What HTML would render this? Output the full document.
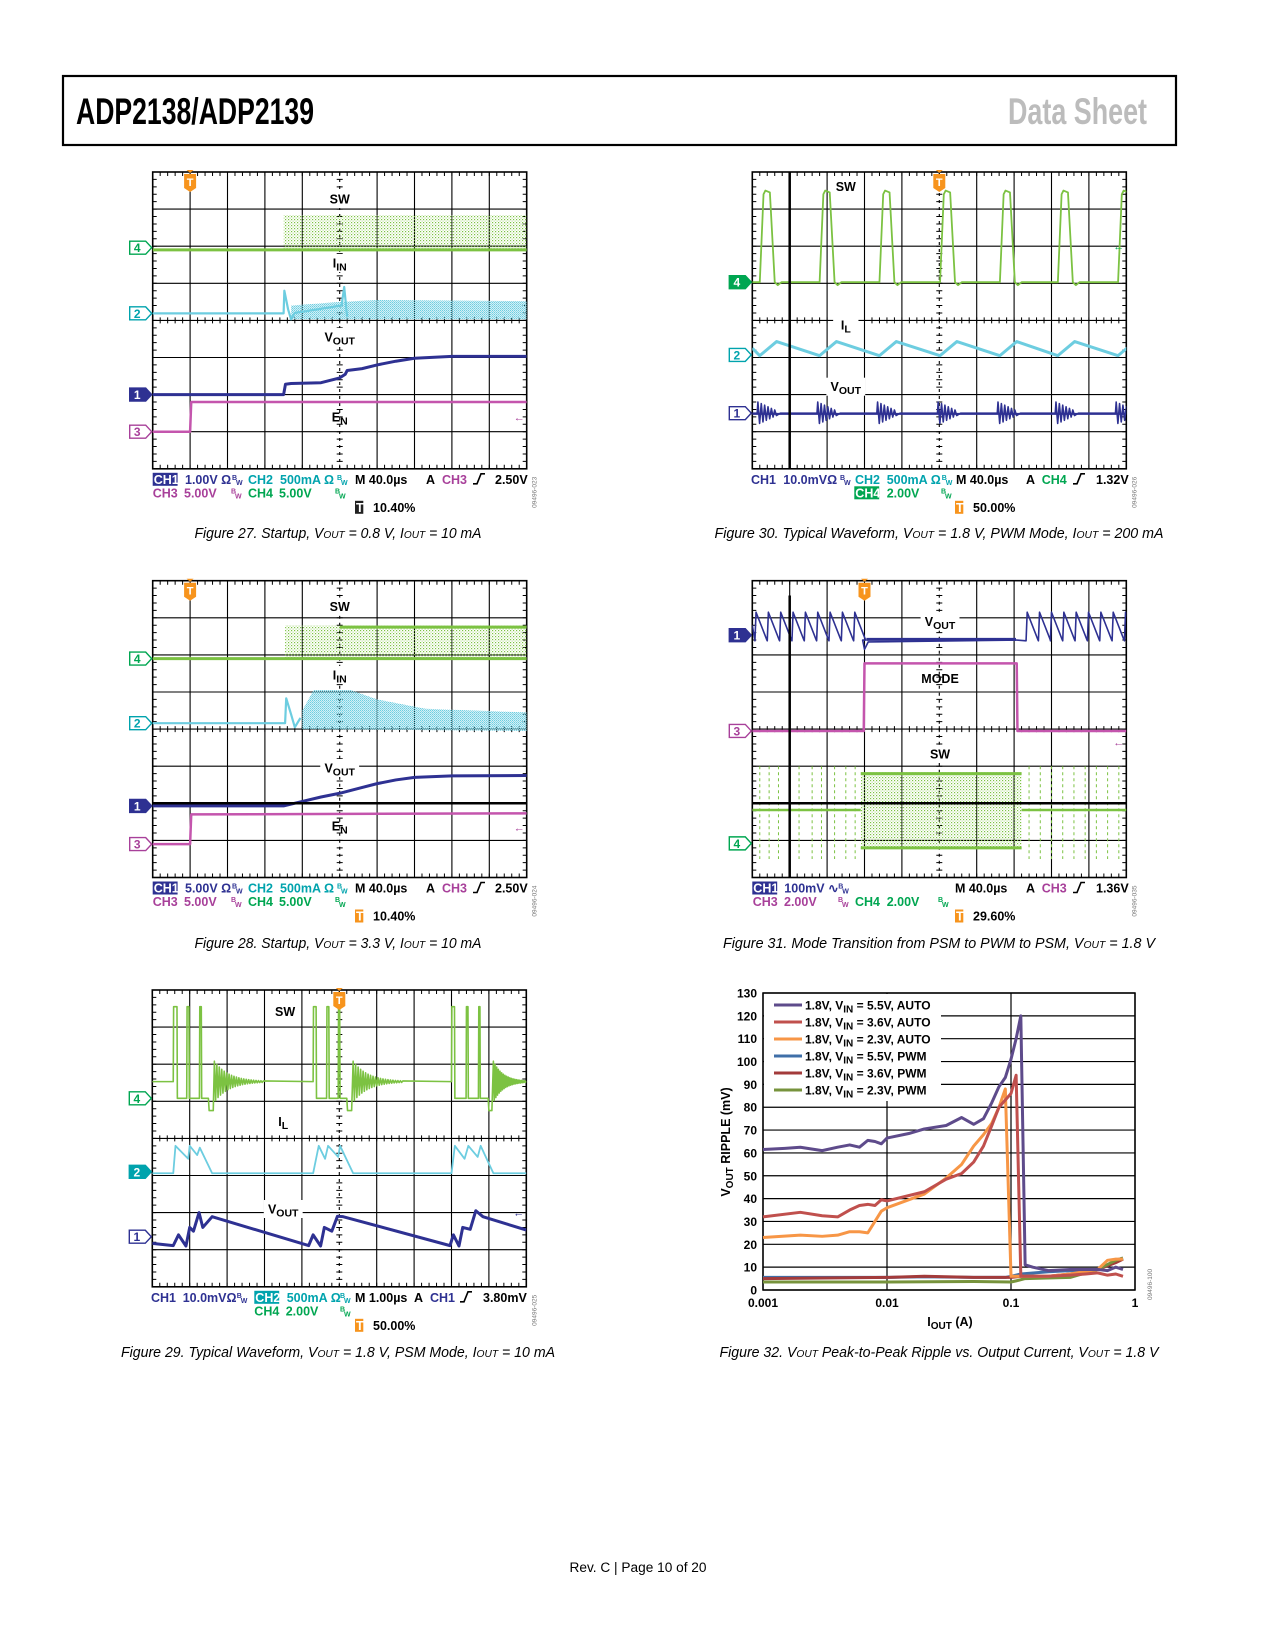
<!DOCTYPE html>
<html><head><meta charset="utf-8"><style>
html,body{margin:0;padding:0;background:#fff}
svg{display:block;font-family:"Liberation Sans",sans-serif}
</style></head><body>
<svg id="pg" xmlns="http://www.w3.org/2000/svg" width="1275" height="1650" viewBox="0 0 1275 1650">
<defs>
<pattern id="pg4" width="3" height="3" patternUnits="userSpaceOnUse"><rect x="0" y="0" width="1.2" height="1.2" fill="#7cc242"/><rect x="1.6" y="1.6" width="1" height="1" fill="#9ad36a"/></pattern>
<pattern id="pc2" width="2" height="2" patternUnits="userSpaceOnUse"><rect x="0" y="0" width="1.3" height="1.3" fill="#6dcde0"/><rect x="1" y="1" width="1" height="1" fill="#8fd9e8"/></pattern>
</defs>
<rect x="63" y="76" width="1113" height="69" fill="none" stroke="#000" stroke-width="2.2"/>
<text x="76" y="124" font-size="37" font-weight="bold" textLength="238" lengthAdjust="spacingAndGlyphs">ADP2138/ADP2139</text>
<text x="1008" y="124" font-size="37" font-weight="bold" fill="#bcbcbc" textLength="139" lengthAdjust="spacingAndGlyphs">Data Sheet</text>
<text x="638" y="1572" font-size="13.5" text-anchor="middle" textLength="137" lengthAdjust="spacingAndGlyphs">Rev. C | Page 10 of 20</text>
<g id="root"></g>
</svg>
<script>
// ===== Figure 32 data (I_OUT in A, ripple in mV) =====
const yTicks = [0,10,20,30,40,50,60,70,80,90,100,110,120,130];
const xTickVals = [0.001,0.01,0.1,1];
const xTickLabels = ["0.001","0.01","0.1","1"];
const auto55_I  = [0.001,0.0015,0.002,0.003,0.004,0.005,0.006,0.007,0.008,0.009,0.01,0.015,0.02,0.03,0.04,0.05,0.06,0.07,0.08,0.09,0.1,0.11,0.12,0.13,0.15,0.2,0.3,0.5,0.6,0.7,0.8];
const auto55_mV = [61.5,62,62.5,61,62.5,63.5,62.5,65.5,65,64,66.5,68.5,70.5,72,75.5,72.5,75,82,89,93,101,110,120,11,10,8.5,9,9,8.5,10,9];
const auto36_I  = [0.001,0.002,0.003,0.004,0.005,0.006,0.007,0.008,0.009,0.01,0.02,0.03,0.04,0.05,0.06,0.07,0.08,0.1,0.11,0.12,0.2,0.3,0.4,0.5,0.6,0.7,0.8];
const auto36_mV = [32,34,32.5,32,35,37,37.5,37,39.5,39,43,48.5,51,56,63,72,80,86,94,6,6,6.5,7,7.5,6.5,7,6];
const auto23_I  = [0.001,0.002,0.003,0.004,0.005,0.006,0.007,0.009,0.01,0.02,0.03,0.04,0.05,0.06,0.07,0.08,0.09,0.1,0.2,0.3,0.5,0.6,0.7,0.8];
const auto23_mV = [23,24,23.5,24,25.5,25.5,25,34.5,36,42,49,55,63,68,73,80,88,6,6,7,9,13,13.5,13.5];
const pwm55_I   = [0.001,0.01,0.02,0.05,0.09,0.1,0.12,0.2,0.3,0.5,0.6,0.7,0.8];
const pwm55_mV  = [5.5,5.5,5.8,5.5,5.5,6,7,8,8.5,9,11,13,14];
const pwm36_I   = [0.001,0.01,0.02,0.05,0.1,0.12,0.2,0.3,0.5,0.7,0.8];
const pwm36_mV  = [5,5.5,6,5.5,5.5,6,6,7,9,12,13.5];
const pwm23_I   = [0.001,0.01,0.05,0.1,0.11,0.13,0.3,0.5,0.7,0.8];
const pwm23_mV  = [3.5,3.5,3.7,3.5,4,5,5.5,9,13,14];

const NS="http://www.w3.org/2000/svg";
const root=document.getElementById('root');
function mk(tag,attrs,parent){const e=document.createElementNS(NS,tag);for(const k in attrs)e.setAttribute(k,attrs[k]);(parent||root).appendChild(e);return e;}
function txt(x,y,s,attrs,parent){const e=mk('text',Object.assign({x:x,y:y},attrs||{}),parent);e.textContent=s;return e;}

const NAVY='#2e3192',TEAL='#00a3ad',CYAN='#6dcde0',GTR='#7cc242',GTX='#00a651',MAG='#a8409a',MTR='#c455ad',ORG='#f7941d';
let clipN=0;
function scope(ox,oy,name){
  const g=mk('g',{});
  
  
  const dx=37.4,dy=37.1;
  const X=d=>ox+d*dx, Y=d=>oy+d*dy;
  const grid=mk('g',{stroke:'#000','stroke-width':1.1,fill:'none'},g);
  
  
  for(let i=1;i<8;i++) mk('line',{x1:X(0),x2:X(10),y1:Y(i),y2:Y(i)},grid);
  for(let i=1;i<10;i++) mk('line',{x1:X(i),x2:X(i),y1:Y(0),y2:Y(8),'stroke-dasharray':i==5?'3,4':'none'},grid);
  let d='';
  for(let t=0;t<=50;t++){const x=X(t/5);d+=`M${x} ${Y(0)}v4M${x} ${Y(8)}v-4M${x} ${Y(4)-3}v6`;}
  for(let t=0;t<=40;t++){const y=Y(t/5);d+=`M${X(0)} ${y}h4M${X(10)} ${y}h-4M${X(5)-3} ${y}h6`;}
  mk('path',{d:d,'stroke-width':1},grid);
  mk('rect',{x:X(0),y:Y(0),width:10*dx,height:8*dy,'stroke-width':1.6},grid);
  const id='clip'+(clipN++);
  const cp=mk('clipPath',{id:id},g);
  mk('rect',{x:X(0),y:Y(0)-2,width:10*dx,height:8*dy+4},cp);
  const t=mk('g',{'clip-path':`url(#${id})`},g);
  return {g,t,X,Y,ox,oy};
}
function poly(s,pts,color,w,name){
  const e=mk('polyline',{points:pts.map(p=>s.X(p[0])+','+s.Y(p[1])).join(' '),fill:'none',stroke:color,'stroke-width':w,'stroke-linejoin':'round'},s.t);
  
  
  return e;
}
function band(s,pts,fill,name){
  const e=mk('polygon',{points:pts.map(p=>s.X(p[0])+','+s.Y(p[1])).join(' '),fill:fill},s.t);
  
  
}
function label(s,xd,cy,str,sub,name,bg){
  const x=s.X(xd);
  const w=(str.length+(sub?sub.length*0.8:0))*8.5+10;
  if(bg!==false) mk('rect',{x:x-w/2,y:cy-9,width:w,height:18,fill:'#fff'},s.g);
  const t=txt(x,cy+4.5,'',{ 'font-size':12.5,'font-weight':'bold','text-anchor':'middle'},s.g);
  
  
  const a=mk('tspan',{},t);a.textContent=str;
  if(sub){const b=mk('tspan',{dy:3,'font-size':10.5},t);b.textContent=sub;}
}
function marker(s,yd,num,color,filled,name){
  const y=s.Y(yd),x0=s.ox-23,x1=s.ox-7;
  const e=mk('path',{d:`M${x0} ${y-6.5}H${x1}L${s.ox-1} ${y}L${x1} ${y+6.5}H${x0}Z`,fill:filled?color:'#fff',stroke:color,'stroke-width':1.4},s.g);
  
  
  txt(x0+7.5,y+4.5,num,{'font-size':12,'font-weight':'bold','text-anchor':'middle',fill:filled?'#fff':color},s.g);
}
function trig(s,xd){
  const x=s.X(xd),y=s.oy;
  const e=mk('g',{},s.g);
  
  
  mk('path',{d:`M${x-3.5} ${y-2}h7l-3.5 3z`,fill:ORG},e);
  mk('path',{d:`M${x-6} ${y+2}h12v14l-6 4l-6-4z`,fill:ORG},e);
  txt(x,y+14,'T',{'font-size':11,'font-weight':'bold','text-anchor':'middle',fill:'#fff'},e);
}
function bw(x,y,c,parent){txt(x,y-4,'B',{'font-size':7,'font-weight':'bold',fill:c},parent);txt(x+4,y+1,'W',{'font-size':7,'font-weight':'bold',fill:c},parent);}
function trigEdge(x,y,parent){mk('path',{d:`M${x} ${y}h4l4-10h4`,fill:'none',stroke:'#000','stroke-width':1.6},parent);}
function readout(s,items,name){
  const g=mk('g',{'font-size':12.5,'font-weight':'bold'},s.g);
  
  
  const base=s.Y(8);
  items.forEach(it=>{
    const [x,row,kind,str,c]=it;
    const y=base+[15,28.5,43][row];
    if(kind==='t') txt(x,y,str,{fill:c},g);
    else if(kind==='box'){mk('rect',{x:x,y:y-11,width:str.length*8.3,height:13,fill:c},g);txt(x+1,y,str,{fill:'#fff'},g);}
    else if(kind==='bw') bw(x,y,c,g);
    else if(kind==='edge') trigEdge(x,y,g);
  });
}
function code(s,str){const x=s.X(10)+10,y=s.Y(8)+8;const t=txt(x,y,str,{'font-size':6.5,fill:'#777',transform:`rotate(-90 ${x} ${y})`,'text-anchor':'end'},s.g);}
function caption(cx,cy,w,parts,name){
  const t=txt(cx,cy+5,'',{'font-size':14.5,'font-style':'italic','text-anchor':'middle',textLength:w,lengthAdjust:'spacingAndGlyphs'});
  
  
  parts.forEach(p=>{const sp=mk('tspan',p[1]?{'font-size':10.5}:{},t);sp.textContent=p[0];});
}

// ===== Figure 27 =====
(function(){
const s=scope(152.7,172,'scope-figure-27');
band(s,[[3.5,1.16],[10,1.16],[10,2.1],[3.5,2.1]],'url(#pg4)','sw-switching-band');
poly(s,[[0,2.1],[10,2.1]],GTR,3,'sw-trace');
band(s,[[3.7,3.6],[5,3.5],[6,3.45],[10,3.48],[10,3.97],[3.7,3.97]],'url(#pc2)','iin-ripple-band');
poly(s,[[0,3.81],[3.5,3.81],[3.52,3.2],[3.62,3.7],[3.7,3.97],[3.8,3.8],[5.05,3.6],[5.12,3.1],[5.2,3.9]],CYAN,2.2,'iin-trace');
poly(s,[[0,6.0],[3.5,6.0],[3.55,5.72],[3.7,5.7],[4.5,5.68],[5,5.55],[5.15,5.45],[5.2,5.35],[5.6,5.3],[6,5.2],[6.5,5.1],[7,5.02],[8,4.97],[10,4.97]],NAVY,3,'vout-trace');
poly(s,[[0,7.0],[1,7.0],[1.03,6.2],[10,6.2]],MTR,2.5,'en-trace');
label(s,5,199,'SW','','sw-label');
label(s,5,263,'I','IN','iin-label');
label(s,5,337,'V','OUT','vout-label');
label(s,5,417,'E','N','en-label',false);
marker(s,2.04,'4',GTX,false,'ch4-marker');marker(s,3.81,'2',TEAL,false,'ch2-marker');marker(s,6.0,'1',NAVY,true,'ch1-marker');marker(s,7.0,'3',MAG,false,'ch3-marker');
trig(s,1);
txt(s.X(10)-2,s.Y(6.6)+4,'←',{'font-size':11,fill:MAG,'text-anchor':'end'},s.g);
readout(s,[[152.7,0,'box','CH1',NAVY],[185,0,'t','1.00V Ω',NAVY],[232,0,'bw','',NAVY],[248,0,'t','CH2',TEAL],[280,0,'t','500mA Ω',TEAL],[337,0,'bw','',TEAL],[355,0,'t','M 40.0µs','#000'],[426,0,'t','A','#000'],[442,0,'t','CH3',MAG],[473,0,'edge'],[495,0,'t','2.50V','#000'],
[152.7,1,'t','CH3',MAG],[184,1,'t','5.00V',MAG],[231,1,'bw','',MAG],[248,1,'t','CH4',GTX],[279,1,'t','5.00V',GTX],[335,1,'bw','',GTX],
[355,2,'box','T','#222'],[373,2,'t','10.40%','#000']],'scope-readout');
code(s,'09496-023');
})();

// ===== Figure 28 =====
(function(){
const s=scope(152.7,580.7,'scope-figure-28');
band(s,[[3.54,1.2],[10,1.2],[10,2.1],[3.54,2.1]],'url(#pg4)','sw-switching-band');
poly(s,[[5,1.25],[10,1.25]],GTR,3,'sw-high-trace');
poly(s,[[0,2.1],[10,2.1]],GTR,3,'sw-trace');
band(s,[[4.0,3.5],[4.3,2.95],[5.3,2.95],[6,3.2],[7.3,3.45],[10,3.55],[10,4.05],[4.0,4.0]],'url(#pc2)','iin-ripple-band');
poly(s,[[0,3.84],[3.54,3.84],[3.57,3.17],[3.7,3.6],[3.8,3.95],[3.95,3.7]],CYAN,2.2,'iin-trace');
mk('line',{x1:s.X(0),x2:s.X(10),y1:s.Y(6),y2:s.Y(6),stroke:'#000','stroke-width':2.5},s.g);
poly(s,[[0,6.07],[3.5,6.07],[4.0,5.95],[4.5,5.83],[5,5.73],[5.5,5.6],[6,5.47],[6.5,5.37],[7,5.3],[8,5.26],[10,5.25]],NAVY,3,'vout-trace');
poly(s,[[0,7.1],[1,7.1],[1.03,6.3],[10,6.27]],MTR,2.5,'en-trace');
label(s,5,606.7,'SW','','sw-label');
label(s,5,675,'I','IN','iin-label');
label(s,5,768,'V','OUT','vout-label');
label(s,5,826,'E','N','en-label',false);
marker(s,2.1,'4',GTX,false,'ch4-marker');marker(s,3.84,'2',TEAL,false,'ch2-marker');marker(s,6.07,'1',NAVY,true,'ch1-marker');marker(s,7.1,'3',MAG,false,'ch3-marker');
trig(s,1);
txt(s.X(10)-2,s.Y(6.65)+4,'←',{'font-size':11,fill:MAG,'text-anchor':'end'},s.g);
readout(s,[[152.7,0,'box','CH1',NAVY],[185,0,'t','5.00V Ω',NAVY],[232,0,'bw','',NAVY],[248,0,'t','CH2',TEAL],[280,0,'t','500mA Ω',TEAL],[337,0,'bw','',TEAL],[355,0,'t','M 40.0µs','#000'],[426,0,'t','A','#000'],[442,0,'t','CH3',MAG],[473,0,'edge'],[495,0,'t','2.50V','#000'],
[152.7,1,'t','CH3',MAG],[184,1,'t','5.00V',MAG],[231,1,'bw','',MAG],[248,1,'t','CH4',GTX],[279,1,'t','5.00V',GTX],[335,1,'bw','',GTX],
[355,2,'box','T',ORG],[373,2,'t','10.40%','#000']],'scope-readout');
code(s,'09496-024');
})();

// ===== Figure 29 =====
(function(){
const s=scope(152.3,990,'scope-figure-29');
const swPts=[[0,2.47],[0.56,2.47],[0.57,0.45],[0.66,0.45],[0.67,2.92],[0.92,2.92],[0.93,0.45],[0.98,0.45],[0.99,2.92],[1.26,2.92],[1.27,0.45],[1.31,0.45],[1.32,2.92],[1.5,2.92],[1.52,3.25],[1.63,3.25]];
function ring(x0,x1){for(let i=0;i<=40;i++){const x=x0+(x1-x0)*i/40;const a=0.55*Math.exp(-i/12);swPts.push([x,2.47+(i%2?a:-a)]);}}
ring(1.66,2.97);
swPts.push([4.3,2.47],[4.31,0.45],[4.38,0.45],[4.39,2.92],[4.66,2.92],[4.67,0.45],[4.72,0.45],[4.73,2.92],[4.97,2.92],[4.98,0.45],[5.01,0.45],[5.02,2.92],[5.2,2.92],[5.22,3.25],[5.33,3.25]);
ring(5.37,6.7);
swPts.push([8.0,2.47],[8.01,0.45],[8.08,0.45],[8.09,2.92],[8.39,2.92],[8.4,0.45],[8.44,0.45],[8.45,2.92],[8.72,2.92],[8.73,0.45],[8.76,0.45],[8.77,2.92],[8.98,2.92],[9.0,3.25],[9.08,3.25]);
ring(9.12,10);
poly(s,swPts,GTR,1.6,'sw-trace');
poly(s,[[0,4.94],[0.56,4.94],[0.62,4.2],[0.96,4.55],[1.0,4.2],[1.2,4.45],[1.27,4.25],[1.6,4.94],[4.3,4.94],[4.45,4.2],[4.62,4.55],[4.7,4.2],[4.97,4.5],[5.02,4.2],[5.37,4.94],[8.0,4.94],[8.09,4.2],[8.35,4.55],[8.45,4.2],[8.7,4.5],[8.78,4.2],[9.12,4.94],[10,4.94]],CYAN,1.8,'il-trace');
poly(s,[[0,6.83],[0.56,6.89],[0.7,6.6],[0.9,6.9],[1.0,6.4],[1.1,6.5],[1.25,6.0],[1.35,6.4],[1.6,6.11],[4.18,6.89],[4.3,6.6],[4.5,6.9],[4.6,6.4],[4.8,6.5],[4.95,6.1],[5.1,6.11],[7.96,6.89],[8.05,6.6],[8.2,6.9],[8.3,6.4],[8.5,6.45],[8.65,5.95],[8.84,6.11],[10,6.47]],NAVY,3,'vout-trace');
label(s,3.55,1011.7,'SW','','sw-label');
label(s,3.5,1121.7,'I','L','il-label',false);
label(s,3.5,1209,'V','OUT','vout-label');
marker(s,2.92,'4',GTX,false,'ch4-marker');marker(s,4.9,'2',TEAL,true,'ch2-marker');marker(s,6.65,'1',NAVY,false,'ch1-marker');
trig(s,5);
txt(s.X(10)-2,s.Y(6.0)+4,'←',{'font-size':11,fill:NAVY,'text-anchor':'end'},s.g);
readout(s,[[151,0,'t','CH1',NAVY],[182.7,0,'t','10.0mVΩ',NAVY],[236.7,0,'bw','',NAVY],[254.3,0,'box','CH2',TEAL],[286.7,0,'t','500mA Ω',TEAL],[340,0,'bw','',TEAL],[355,0,'t','M 1.00µs','#000'],[414,0,'t','A','#000'],[430,0,'t','CH1',NAVY],[460,0,'edge'],[483,0,'t','3.80mV','#000'],
[254.3,1,'t','CH4',GTX],[285.7,1,'t','2.00V',GTX],[340,1,'bw','',GTX],
[355,2,'box','T',ORG],[373,2,'t','50.00%','#000']],'scope-readout');
code(s,'09496-025');
})();

// ===== Figure 30 =====
(function(){
const s=scope(752.3,172,'scope-figure-30');
const pulseStarts=[0.2,1.8,3.4,5.02,6.62,8.17,9.78];
const swPts=[[0,2.97]];
pulseStarts.forEach(p=>{swPts.push([p,2.97],[p+0.1,0.6],[p+0.15,0.5],[p+0.27,0.55],[p+0.4,2.97],[p+0.48,3.05],[p+0.58,2.97]);});
swPts.push([10.5,2.97]);
poly(s,swPts,GTR,1.8,'sw-trace');
const ilPts=[[0,4.75]];
pulseStarts.forEach(p=>{ilPts.push([p,4.95],[p+0.45,4.57]);});
ilPts.push([10.5,4.75]);
poly(s,ilPts,CYAN,3,'il-trace');
const vPts=[[0,6.5]];
pulseStarts.forEach(p=>{vPts.push([p-0.07,6.5]);for(let i=0;i<12;i++){const x=p-0.05+i*0.045;vPts.push([x,6.5+(i%2?0.3:-0.3)*(1-i/14)]);}vPts.push([p+0.55,6.5]);});
vPts.push([10.5,6.5]);
poly(s,vPts,NAVY,1.6,'vout-trace');
poly(s,[[0,6.52],[10,6.52]],NAVY,2,'vout-base');
mk('line',{x1:s.X(1),x2:s.X(1),y1:s.Y(0),y2:s.Y(8),stroke:'#000','stroke-width':2.5},s.g);
label(s,2.5,186.7,'SW','','sw-label',false);
label(s,2.5,325,'I','L','il-label');
label(s,2.5,386.7,'V','OUT','vout-label');
marker(s,2.97,'4',GTX,true,'ch4-marker');marker(s,4.93,'2',TEAL,false,'ch2-marker');marker(s,6.5,'1',NAVY,false,'ch1-marker');
trig(s,5);
txt(s.X(10)-2,s.Y(2.0)+4,'←',{'font-size':11,fill:GTX,'text-anchor':'end'},s.g);
readout(s,[[751,0,'t','CH1',NAVY],[783.3,0,'t','10.0mVΩ',NAVY],[840,0,'bw','',NAVY],[855,0,'t','CH2',TEAL],[886.7,0,'t','500mA Ω',TEAL],[941.7,0,'bw','',TEAL],[956,0,'t','M 40.0µs','#000'],[1026,0,'t','A','#000'],[1041.7,0,'t','CH4',GTX],[1073,0,'edge'],[1096,0,'t','1.32V','#000'],
[854.3,1,'box','CH4',GTX],[886.7,1,'t','2.00V',GTX],[941,1,'bw','',GTX],
[955,2,'box','T',ORG],[973,2,'t','50.00%','#000']],'scope-readout');
code(s,'09496-026');
})();

// ===== Figure 31 =====
(function(){
const s=scope(752.3,580.7,'scope-figure-31');
const teethA=[0.1,0.43,0.76,1.09,1.42,1.75,2.08,2.41,2.74];
const teethB=[7.35,7.68,8.0,8.33,8.66,8.99,9.32,9.65,9.98];
function saw(list){const out=[];list.forEach(p=>{out.push([p-0.03,1.62],[p,0.85],[p+0.29,1.6]);});return out;}
poly(s,[[0,1.2]].concat(saw(teethA),[[2.95,1.6],[3.0,1.85],[3.1,1.65],[7.07,1.6]],saw(teethB),[[10.5,1.5]]),NAVY,1.6,'vout-trace');
poly(s,[[3.05,1.58],[7.05,1.58]],NAVY,3,'vout-flat-trace');
poly(s,[[0,4.05],[2.98,4.05],[3.0,2.23],[7.07,2.23],[7.09,4.05],[10,4.05]],MTR,2.5,'mode-trace');
band(s,[[2.9,5.16],[7.2,5.16],[7.2,7.23],[2.9,7.23]],'url(#pg4)','sw-pwm-band');
poly(s,[[2.9,5.2],[7.2,5.2]],GTR,3,'sw-pwm-top');
poly(s,[[2.9,7.2],[7.2,7.2]],GTR,3,'sw-pwm-bottom');
poly(s,[[0,6.18],[2.9,6.18]],GTR,2.5,'sw-trace-a');
poly(s,[[7.2,6.18],[10,6.18]],GTR,2.5,'sw-trace-b');
const spikes=[0.2,0.45,0.7,1.0,1.25,1.6,1.85,2.2,2.5,2.75,7.4,7.7,8.0,8.3,8.6,8.9,9.2,9.5,9.8];
let d='';spikes.forEach(x=>{d+=`M${s.X(x)} ${s.Y(5.0)}V${s.Y(7.5)}`;});
const sp=mk('path',{d:d,stroke:GTR,'stroke-width':1,'stroke-dasharray':'3,3',fill:'none'},s.t);


mk('line',{x1:s.X(0),x2:s.X(10),y1:s.Y(6),y2:s.Y(6),stroke:'#000','stroke-width':2.5},s.g);
mk('line',{x1:s.X(1),x2:s.X(1),y1:s.Y(0.4),y2:s.Y(8),stroke:'#000','stroke-width':2.5},s.g);
label(s,5.02,621.7,'V','OUT','vout-label');
label(s,5.02,678.3,'MODE','','mode-label',false);
label(s,5.02,754,'SW','','sw-label');
marker(s,1.47,'1',NAVY,true,'ch1-marker');marker(s,4.05,'3',MAG,false,'ch3-marker');marker(s,7.08,'4',GTX,false,'ch4-marker');
trig(s,3);
txt(s.X(10)-2,s.Y(4.35)+4,'←',{'font-size':11,fill:MAG,'text-anchor':'end'},s.g);
readout(s,[[752.3,0,'box','CH1',NAVY],[784.3,0,'t','100mV ∿',NAVY],[838.3,0,'bw','',NAVY],[955,0,'t','M 40.0µs','#000'],[1026,0,'t','A','#000'],[1041.7,0,'t','CH3',MAG],[1073,0,'edge'],[1096,0,'t','1.36V','#000'],
[752.7,1,'t','CH3',MAG],[784,1,'t','2.00V',MAG],[838,1,'bw','',MAG],[855,1,'t','CH4',GTX],[886.7,1,'t','2.00V',GTX],[938,1,'bw','',GTX],
[955,2,'box','T',ORG],[973,2,'t','29.60%','#000']],'scope-readout');
code(s,'09496-035');
})();

// ===== Figure 32 chart =====
(function(){
const L=763,R=1135,T=993,B=1290;
const xs=v=>L+(Math.log10(v)+3)/3*(R-L);
const ys=v=>B-v/130*(B-T);
const g=mk('g',{});


yTicks.forEach(v=>{
  const l=mk('line',{x1:L,x2:R,y1:ys(v),y2:ys(v),stroke:'#000','stroke-width':1.2},g);
  
  
  const t=txt(757,ys(v)+4.5,String(v),{'font-size':12,'font-weight':'bold','text-anchor':'end'},g);
  
  
});
xTickVals.forEach((v,i)=>{
  const l=mk('line',{x1:xs(v),x2:xs(v),y1:T,y2:B,stroke:'#000','stroke-width':1.2},g);
  
  
  const t=txt(xs(v),1307,xTickLabels[i],{'font-size':12,'font-weight':'bold','text-anchor':'middle'},g);
  
  
});
mk('rect',{x:L,y:T,width:R-L,height:B-T,fill:'none',stroke:'#000','stroke-width':1.5},g);
mk('rect',{x:L+1,y:T+1,width:177,height:107,fill:'#fff'},g);
const series=[
 [auto55_I,auto55_mV,'#5e4b8b','1.8V, V','IN',' = 5.5V, AUTO','series-5v5-auto'],
 [auto36_I,auto36_mV,'#c0504d','1.8V, V','IN',' = 3.6V, AUTO','series-3v6-auto'],
 [auto23_I,auto23_mV,'#f79646','1.8V, V','IN',' = 2.3V, AUTO','series-2v3-auto'],
 [pwm55_I,pwm55_mV,'#3f6fa8','1.8V, V','IN',' = 5.5V, PWM','series-5v5-pwm'],
 [pwm36_I,pwm36_mV,'#a33b3b','1.8V, V','IN',' = 3.6V, PWM','series-3v6-pwm'],
 [pwm23_I,pwm23_mV,'#77933c','1.8V, V','IN',' = 2.3V, PWM','series-2v3-pwm']];
const drawOrder=[3,4,5,2,1,0];
drawOrder.forEach(k=>{
  const sr=series[k];
  const p=mk('polyline',{points:sr[0].map((v,i)=>xs(v)+','+ys(sr[1][i])).join(' '),fill:'none',stroke:sr[2],'stroke-width':3,'stroke-linejoin':'round'},g);
  
  
});
series.forEach((sr,i)=>{
  const y=1005+i*17;
  const lg=mk('g',{},g);
  
  
  mk('line',{x1:774,x2:802,y1:y,y2:y,stroke:sr[2],'stroke-width':3},lg);
  const t=txt(805,y+4.5,'',{'font-size':12,'font-weight':'bold'},lg);
  const a=mk('tspan',{},t);a.textContent=sr[3];
  const b=mk('tspan',{dy:3,'font-size':10},t);b.textContent=sr[4];
  const c=mk('tspan',{dy:-3},t);c.textContent=sr[5];
});
const xt=txt(950,1326,'',{'font-size':12.5,'font-weight':'bold','text-anchor':'middle'},g);


let a=mk('tspan',{},xt);a.textContent='I';a=mk('tspan',{dy:3,'font-size':10},xt);a.textContent='OUT';a=mk('tspan',{dy:-3},xt);a.textContent=' (A)';
const yt=txt(730,1142,'',{'font-size':12.5,'font-weight':'bold','text-anchor':'middle',transform:'rotate(-90 730 1142)'},g);


a=mk('tspan',{},yt);a.textContent='V';a=mk('tspan',{dy:3,'font-size':10},yt);a.textContent='OUT';a=mk('tspan',{dy:-3},yt);a.textContent=' RIPPLE (mV)';
const cd=txt(1152,1300,'09496-100',{'font-size':6.5,fill:'#777',transform:'rotate(-90 1152 1300)'},g);


})();

// ===== Captions =====
caption(338,533,287,[['Figure 27. Startup, V'],['OUT',1],[' = 0.8 V, I'],['OUT',1],[' = 10 mA']],'caption-figure-27');
caption(338,943,287,[['Figure 28. Startup, V'],['OUT',1],[' = 3.3 V, I'],['OUT',1],[' = 10 mA']],'caption-figure-28');
caption(338,1352,434,[['Figure 29. Typical Waveform, V'],['OUT',1],[' = 1.8 V, PSM Mode, I'],['OUT',1],[' = 10 mA']],'caption-figure-29');
caption(939,533,449,[['Figure 30. Typical Waveform, V'],['OUT',1],[' = 1.8 V, PWM Mode, I'],['OUT',1],[' = 200 mA']],'caption-figure-30');
caption(939,943,432,[['Figure 31. Mode Transition from PSM to PWM to PSM, V'],['OUT',1],[' = 1.8 V']],'caption-figure-31');
caption(939,1352,439,[['Figure 32. V'],['OUT',1],[' Peak-to-Peak Ripple vs. Output Current, V'],['OUT',1],[' = 1.8 V']],'caption-figure-32');
</script>
</body></html>
